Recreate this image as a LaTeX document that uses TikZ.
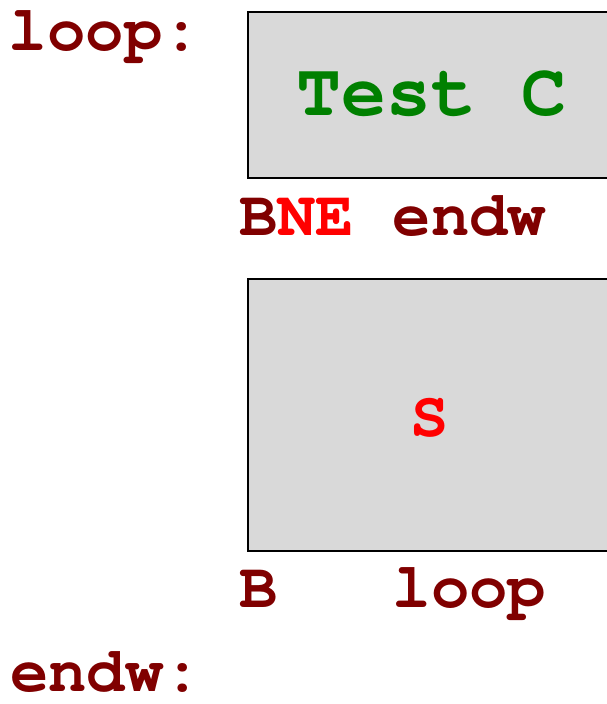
\documentclass[tikz,border=0pt]{standalone}
\usepackage[T1]{fontenc}
\definecolor{dred}{RGB}{128,0,0}
\definecolor{dgreen}{RGB}{0,128,0}
\definecolor{boxgray}{RGB}{217,217,217}

\begin{document}
\begin{tikzpicture}[x=1pt,y=-1pt,
      every node/.style={inner sep=0pt,outer sep=0pt,font=\fontfamily{pcr}\bfseries\fontsize{64}{64}\selectfont},
      lbl/.style={anchor=base west,text=dred},
      block/.style={draw=black,line width=1.5pt,fill=boxgray},
      big/.style={font=\fontfamily{pcr}\bfseries\fontsize{75}{75}\selectfont}]
      \useasboundingbox (0,0) rectangle (607,704);
      % the two blocks, cut off at the right edge
      \draw[block] (248,12) rectangle (640,178);
      \draw[block] (248,279) rectangle (640,551);
      \node[big,text=dgreen] (test) at (431,115) [anchor=base] {Test C};
      \node[text=red] (body) at (430,436) [anchor=base] {S};
      % labels and branches
      \node[lbl] (loop) at (9,50) {loop:};
      \node[lbl] (bne) at (239,235) {B\textcolor{red}{NE}};
      \node[lbl] (endwref) at (392.6,235) {endw};
      \node[lbl] (b) at (239,607) {B};
      \node[lbl] (loopref) at (392.6,607) {loop};
      \node[lbl] (endw) at (10,691) {endw:};
\end{tikzpicture}
\end{document}
